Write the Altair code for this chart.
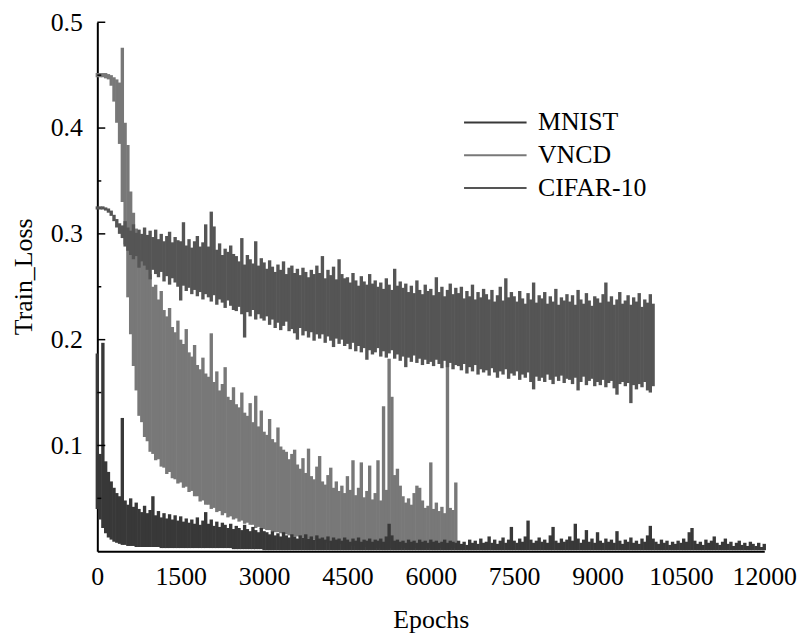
import altair as alt
import pandas as pd

STEP = 50  # sampling interval (epochs) of the envelope readings below

series_names = ["MNIST", "VNCD", "CIFAR-10"]
series_colors = ["#383838", "#787878", "#555555"]

x_ticks = [0, 1500, 3000, 4500, 6000, 7500, 9000, 10500, 12000]
y_major = [0.1, 0.2, 0.3, 0.4, 0.5]
y_minor = [0.05, 0.15, 0.25, 0.35, 0.45]

# CIFAR-10: upper / lower envelope, epochs 0..10000
cifar_hi = [
    0.326, 0.326, 0.326, 0.325, 0.324, 0.322, 0.318, 0.314, 0.310, 0.308,
    0.312, 0.306, 0.303, 0.309, 0.301, 0.304, 0.300, 0.306, 0.299, 0.303,
    0.297, 0.304, 0.295, 0.300, 0.293, 0.298, 0.302, 0.292, 0.297, 0.294,
    0.293, 0.311, 0.289, 0.295, 0.287, 0.293, 0.298, 0.288, 0.292, 0.309,
    0.288, 0.321, 0.307, 0.285, 0.291, 0.280, 0.286, 0.283, 0.289, 0.281,
    0.279, 0.274, 0.296, 0.271, 0.280, 0.276, 0.272, 0.293, 0.270, 0.277,
    0.273, 0.267, 0.275, 0.269, 0.264, 0.271, 0.266, 0.274, 0.262, 0.268,
    0.270, 0.263, 0.267, 0.261, 0.268, 0.264, 0.259, 0.266, 0.262, 0.270,
    0.263, 0.279, 0.258, 0.266, 0.261, 0.269, 0.257, 0.276, 0.262, 0.258,
    0.259, 0.254, 0.263, 0.256, 0.251, 0.260, 0.255, 0.252, 0.262, 0.253,
    0.256, 0.250, 0.254, 0.248, 0.258, 0.252, 0.247, 0.267, 0.251, 0.255,
    0.249, 0.253, 0.245, 0.251, 0.244, 0.256, 0.247, 0.243, 0.252, 0.246,
    0.248, 0.242, 0.259, 0.245, 0.250, 0.241, 0.247, 0.253, 0.243, 0.249,
    0.244, 0.250, 0.239, 0.246, 0.241, 0.252, 0.238, 0.245, 0.240, 0.248,
    0.243, 0.238, 0.247, 0.236, 0.242, 0.250, 0.237, 0.258, 0.240, 0.245,
    0.241, 0.236, 0.246, 0.239, 0.234, 0.244, 0.238, 0.254, 0.235, 0.242,
    0.239, 0.245, 0.234, 0.241, 0.236, 0.248, 0.233, 0.240, 0.237, 0.243,
    0.236, 0.242, 0.233, 0.247, 0.238, 0.234, 0.244, 0.237, 0.232, 0.241,
    0.239, 0.235, 0.243, 0.254, 0.236, 0.241, 0.233, 0.238, 0.245, 0.234,
    0.237, 0.242, 0.233, 0.240, 0.236, 0.244, 0.231, 0.238, 0.235, 0.243, 0.234,
]
cifar_lo = [
    0.323, 0.323, 0.323, 0.322, 0.320, 0.317, 0.312, 0.306, 0.300, 0.296,
    0.288, 0.284, 0.280, 0.276, 0.279, 0.268, 0.274, 0.270, 0.266, 0.257,
    0.266, 0.262, 0.259, 0.264, 0.255, 0.260, 0.252, 0.258, 0.254, 0.250,
    0.237, 0.251, 0.246, 0.249, 0.243, 0.247, 0.241, 0.245, 0.238, 0.243,
    0.240, 0.236, 0.242, 0.233, 0.238, 0.235, 0.230, 0.237, 0.232, 0.228,
    0.227, 0.231, 0.224, 0.202, 0.226, 0.222, 0.228, 0.219, 0.224, 0.220,
    0.218, 0.222, 0.214, 0.219, 0.211, 0.216, 0.209, 0.213, 0.217, 0.208,
    0.210, 0.206, 0.200, 0.211, 0.204, 0.208, 0.202, 0.207, 0.199, 0.205,
    0.201, 0.205, 0.197, 0.203, 0.199, 0.193, 0.201, 0.196, 0.200, 0.194,
    0.196, 0.191, 0.197, 0.189, 0.194, 0.188, 0.192, 0.181, 0.190, 0.186,
    0.188, 0.192, 0.184, 0.189, 0.183, 0.187, 0.190, 0.182, 0.186, 0.180,
    0.184, 0.174, 0.183, 0.179, 0.185, 0.178, 0.182, 0.176, 0.181, 0.177,
    0.179, 0.175, 0.181, 0.177, 0.173, 0.180, 0.174, 0.178, 0.172, 0.176,
    0.175, 0.171, 0.177, 0.168, 0.174, 0.170, 0.176, 0.167, 0.172, 0.169,
    0.171, 0.166, 0.173, 0.169, 0.164, 0.170, 0.167, 0.172, 0.163, 0.168,
    0.166, 0.170, 0.162, 0.167, 0.164, 0.169, 0.160, 0.153, 0.165, 0.161,
    0.164, 0.160, 0.167, 0.162, 0.158, 0.165, 0.161, 0.166, 0.159, 0.163,
    0.162, 0.158, 0.164, 0.152, 0.160, 0.165, 0.157, 0.161, 0.163, 0.156,
    0.160, 0.157, 0.162, 0.155, 0.159, 0.161, 0.154, 0.148, 0.158, 0.160,
    0.156, 0.159, 0.140, 0.157, 0.153, 0.158, 0.155, 0.160, 0.152, 0.150, 0.156,
]

# VNCD: upper / lower envelope, epochs 0..6450
vncd_hi = [
    0.452, 0.452, 0.452, 0.452, 0.451, 0.450, 0.448, 0.446, 0.443, 0.476,
    0.405, 0.384, 0.340, 0.320, 0.305, 0.295, 0.285, 0.278, 0.268, 0.262,
    0.250, 0.252, 0.238, 0.246, 0.228, 0.222, 0.230, 0.212, 0.207, 0.218,
    0.200, 0.196, 0.210, 0.188, 0.184, 0.195, 0.176, 0.172, 0.183, 0.168,
    0.165, 0.206, 0.160, 0.170, 0.152, 0.158, 0.174, 0.146, 0.143, 0.155,
    0.139, 0.136, 0.150, 0.131, 0.128, 0.140, 0.122, 0.147, 0.118, 0.133,
    0.113, 0.110, 0.125, 0.106, 0.103, 0.117, 0.099, 0.096, 0.094, 0.087,
    0.092, 0.096, 0.082, 0.078, 0.088, 0.074, 0.097, 0.071, 0.068, 0.080,
    0.090, 0.066, 0.063, 0.072, 0.079, 0.060, 0.066, 0.057, 0.062, 0.055,
    0.071, 0.058, 0.086, 0.053, 0.060, 0.084, 0.051, 0.057, 0.081, 0.049,
    0.055, 0.086, 0.048, 0.137, 0.058, 0.182, 0.146, 0.072, 0.078, 0.062,
    0.052, 0.046, 0.050, 0.044, 0.055, 0.062, 0.060, 0.048, 0.041, 0.043,
    0.084, 0.040, 0.046, 0.038, 0.042, 0.036, 0.181, 0.041, 0.039, 0.065,
]
vncd_lo = [
    0.448, 0.448, 0.448, 0.447, 0.446, 0.440, 0.425, 0.405, 0.385, 0.330,
    0.290, 0.240, 0.205, 0.175, 0.152, 0.128, 0.122, 0.108, 0.104, 0.094,
    0.092, 0.086, 0.087, 0.080, 0.079, 0.073, 0.075, 0.069, 0.068, 0.064,
    0.065, 0.060, 0.061, 0.056, 0.057, 0.052, 0.052, 0.047, 0.048, 0.044,
    0.044, 0.040, 0.041, 0.037, 0.038, 0.034, 0.036, 0.032, 0.033, 0.030,
    0.031, 0.028, 0.029, 0.026, 0.027, 0.025, 0.025, 0.022, 0.023, 0.021,
    0.021, 0.020, 0.020, 0.019, 0.018, 0.018, 0.017, 0.016, 0.016, 0.015,
    0.015, 0.014, 0.014, 0.013, 0.013, 0.012, 0.012, 0.011, 0.011, 0.010,
    0.010, 0.009, 0.009, 0.008, 0.008, 0.008, 0.007, 0.007, 0.007, 0.006,
    0.006, 0.006, 0.005, 0.005, 0.005, 0.005, 0.004, 0.004, 0.004, 0.004,
] + [0.003] * 30

# MNIST: upper / lower envelope, epochs 0..12000
mnist_hi = [
    0.187, 0.092, 0.197, 0.085, 0.075, 0.066, 0.060, 0.055, 0.052, 0.126,
    0.048, 0.044, 0.050, 0.042, 0.046, 0.040, 0.037, 0.043, 0.036, 0.039,
    0.052, 0.034, 0.038, 0.032, 0.036, 0.031, 0.035, 0.030, 0.034, 0.029,
    0.033, 0.028, 0.031, 0.027, 0.030, 0.026, 0.032, 0.025, 0.029, 0.037,
    0.026, 0.030, 0.024, 0.028, 0.023, 0.027, 0.025, 0.022, 0.026, 0.021,
    0.024, 0.022, 0.020, 0.025, 0.021, 0.019, 0.023, 0.020, 0.018, 0.022,
    0.019, 0.018, 0.016, 0.019, 0.015, 0.017, 0.014, 0.018, 0.015, 0.013,
    0.016, 0.014, 0.012, 0.015, 0.013, 0.016, 0.012, 0.014, 0.011, 0.015,
    0.012, 0.013, 0.011, 0.014, 0.010, 0.013, 0.011, 0.012, 0.010, 0.013,
    0.011, 0.009, 0.012, 0.010, 0.013, 0.009, 0.011, 0.010, 0.012, 0.009,
    0.011, 0.010, 0.012, 0.009, 0.014, 0.026, 0.015, 0.010, 0.011, 0.009,
    0.010, 0.008, 0.011, 0.009, 0.010, 0.008, 0.011, 0.009, 0.010, 0.008,
    0.011, 0.009, 0.010, 0.008, 0.009, 0.011, 0.008, 0.010, 0.009, 0.008,
    0.010, 0.007, 0.009, 0.006, 0.011, 0.008, 0.010, 0.007, 0.012, 0.008,
    0.009, 0.014, 0.008, 0.011, 0.007, 0.010, 0.013, 0.008, 0.011, 0.023,
    0.010, 0.008, 0.012, 0.009, 0.014, 0.029, 0.011, 0.008, 0.010, 0.013,
    0.009, 0.011, 0.008, 0.015, 0.023, 0.010, 0.008, 0.012, 0.009, 0.011,
    0.014, 0.010, 0.026, 0.012, 0.008, 0.011, 0.020, 0.009, 0.012, 0.008,
    0.018, 0.010, 0.008, 0.012, 0.009, 0.011, 0.008, 0.019, 0.010, 0.007,
    0.011, 0.009, 0.013, 0.008, 0.010, 0.007, 0.012, 0.009, 0.015, 0.024,
    0.012, 0.009, 0.007, 0.011, 0.008, 0.010, 0.006, 0.009, 0.007, 0.010,
    0.008, 0.012, 0.009, 0.018, 0.022, 0.010, 0.007, 0.009, 0.006, 0.011,
    0.008, 0.010, 0.014, 0.008, 0.006, 0.009, 0.012, 0.007, 0.009, 0.005,
    0.008, 0.010, 0.006, 0.008, 0.005, 0.009, 0.007, 0.005, 0.008, 0.004, 0.007,
]
mnist_lo = [
    0.040, 0.030, 0.022, 0.017, 0.013, 0.011, 0.009, 0.008, 0.007, 0.006,
    0.006, 0.005, 0.005, 0.005, 0.004, 0.004, 0.004, 0.004, 0.004, 0.004,
    0.004, 0.004, 0.004,
] + [0.003] * 26 + [0.002] * 11 + [0.001] * 181

# ---- build table (drawing order: VNCD, CIFAR-10, MNIST on top) ----
rows = []
for name, lo, hi in [("VNCD", vncd_lo, vncd_hi),
                     ("CIFAR-10", cifar_lo, cifar_hi),
                     ("MNIST", mnist_lo, mnist_hi)]:
    for i, (a, b) in enumerate(zip(lo, hi)):
        rows.append({"series": name, "epoch": i * STEP, "lo": a, "hi": b})
df = pd.DataFrame(rows)

x_scale = alt.Scale(domain=[0, 12000], nice=False, zero=False)
y_scale = alt.Scale(domain=[0, 0.5], nice=False)

FONT = "Liberation Serif"

bands = alt.Chart(df).mark_rule(strokeWidth=3.4).encode(
    x=alt.X("epoch:Q", scale=x_scale,
            axis=alt.Axis(values=x_ticks, title="Epochs", format="d",
                          ticks=False, labelPadding=34, labelBaseline="alphabetic",
                          labelFlush=False, labelOverlap=False,
                          titleY=77, titleBaseline="alphabetic")),
    y=alt.Y("lo:Q", scale=y_scale,
            axis=alt.Axis(values=y_major, title="Train_Loss", format=".1f",
                          ticks=False, labelPadding=15, labelFlush=False,
                          titleX=-61, titleY=256)),
    y2="hi:Q",
    color=alt.Color("series:N",
                    scale=alt.Scale(domain=series_names, range=series_colors),
                    legend=alt.Legend(title=None, orient="none",
                                      legendX=388, legendY=88,
                                      symbolType="M-3,0H3", symbolSize=441,
                                      symbolStrokeWidth=2, labelOffset=30,
                                      rowPadding=7, padding=0)),
)

major_df = pd.DataFrame({"v": y_major})
minor_df = pd.DataFrame({"v": y_minor})
major_ticks = alt.Chart(major_df).mark_rule(color="black", strokeWidth=1.5).encode(
    y=alt.Y("v:Q", scale=y_scale), x=alt.value(0), x2=alt.value(8))
minor_ticks = alt.Chart(minor_df).mark_rule(color="black", strokeWidth=1.5).encode(
    y=alt.Y("v:Q", scale=y_scale), x=alt.value(0), x2=alt.value(4))

chart = alt.layer(bands, major_ticks, minor_ticks).properties(
    width=672, height=533,
    autosize=alt.AutoSizeParams(type="none"),
    padding={"left": 90, "top": 12, "right": 36, "bottom": 80},
).configure_axis(
    labelFont=FONT, titleFont=FONT, labelFontSize=26, titleFontSize=26,
    labelColor="black", titleColor="black", titleFontWeight="normal",
    domainColor="black", domainWidth=2, grid=False,
).configure_legend(
    labelFont=FONT, labelFontSize=26, labelColor="black",
).configure_view(strokeWidth=0)

chart.save("out.html", embed_options={"renderer": "svg", "actions": False})
